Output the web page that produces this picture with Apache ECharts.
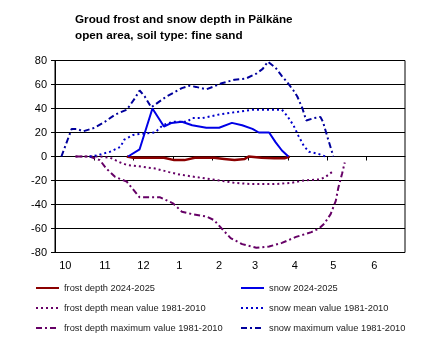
<!DOCTYPE html>
<html>
<head>
<meta charset="utf-8">
<script src="https://cdn.jsdelivr.net/npm/echarts@6/dist/echarts.min.js"></script>
<style>
  html, body { margin: 0; padding: 0; background: #fff; }
  #chart { width: 430px; height: 352px; }
</style>
</head>
<body>
<div id="chart"></div>
<script>
// x = days from 1 October, y = cm (snow positive, frost negative)
const monthLabels = ["10", "11", "12", "1", "2", "3", "4", "5", "6"];
const labelDays = [8, 39, 69, 97, 128, 156, 187, 217, 249];
const monthStarts = [31, 61, 92, 123, 151, 182, 212, 243];

const frostNow = [[56, 0], [61, -1], [85, -1], [93, -3], [101, -3], [109, -1], [124, -1], [132, -2],
  [140, -3], [148, -2], [151, 0], [161, -1], [171, -1.5], [179, -1.5], [183, 0]];
const frostMean = [[16, 0], [35, 0], [43, -1], [51, -5], [56, -7], [64, -8], [78, -10], [89, -13],
  [97, -15], [109, -17], [122, -19], [134, -21], [140, -22], [153, -23], [171, -23], [184, -22],
  [194, -20], [207, -19], [211, -17], [216, -13]];
const frostMax = [[16, 0], [27, 0], [35, -3], [40, -10], [47, -17], [56, -21], [66, -34], [82, -34],
  [92, -39], [99, -46], [107, -48], [118, -50], [124, -53], [130, -60], [137, -68], [146, -73],
  [157, -76], [167, -75], [177, -72], [188, -67], [200, -63], [206, -60], [210, -56], [215, -48],
  [219, -37], [221, -26], [224, -14], [226, -5]];
const snowNow = [[57, 0], [66, 6], [76, 40], [85, 25], [91, 28], [99, 29], [107, 26], [118, 24],
  [128, 24], [138, 28], [146, 26], [154, 23], [159, 20], [167, 20], [172, 12], [177, 5], [182, 0]];
const snowMean = [[27, 0], [33, 1], [43, 4], [51, 8], [54, 14], [61, 18], [68, 19], [78, 20],
  [84, 26], [92, 29], [103, 29], [107, 32], [115, 32], [128, 35], [141, 37], [154, 39], [167, 39],
  [177, 39], [181, 34], [186, 26], [190, 17], [194, 9], [198, 4], [206, 2], [211, 0]];
const snowMax = [[5, 0], [13, 23], [17, 23], [22, 21], [31, 24], [39, 29], [47, 35], [56, 39],
  [62, 48], [66, 55], [70, 50], [75, 41], [87, 50], [99, 57], [105, 59], [110, 58], [118, 56],
  [123, 58], [130, 61], [140, 64], [149, 65], [157, 69], [162, 73], [166, 79], [172, 74], [177, 67],
  [181, 62], [186, 55], [189, 50], [193, 40], [196, 30], [202, 32], [207, 33], [209, 29], [212, 18],
  [214, 11], [216, 4], [217, 0]];

const font = 'Arial, "Liberation Sans", sans-serif';
const dotted = [2, 3];
const dashDot = [6, 3, 2, 3];

const chart = echarts.init(document.getElementById("chart"));

function line(name, data, color, type, width) {
  return {
    name: name,
    type: "line",
    data: data,
    symbol: "none",
    lineStyle: { color: color, width: width || 2, type: type },
    itemStyle: { color: color },
    animation: false
  };
}

const legendBase = {
  orient: "vertical",
  top: 277,
  itemWidth: 23,
  itemHeight: 12,
  itemGap: 8,
  itemStyle: { opacity: 0 },
  textStyle: { fontFamily: font, fontSize: 9.3, color: "#222", lineHeight: 12 }
};

chart.setOption({
  animation: false,
  title: {
    text: "Groud frost and snow depth in Pälkäne\nopen area, soil type: fine sand",
    left: 70,
    top: 7,
    textStyle: { fontFamily: font, fontSize: 11.7, fontWeight: "bold", color: "#000", lineHeight: 16 }
  },
  legend: [
    Object.assign({}, legendBase, {
      left: 30,
      data: ["frost depth 2024-2025", "frost depth mean value 1981-2010", "frost depth maximum value 1981-2010"]
    }),
    Object.assign({}, legendBase, {
      left: 235,
      data: ["snow 2024-2025", "snow mean value 1981-2010", "snow maximum value 1981-2010"]
    })
  ],
  grid: {
    left: 55,
    right: 25,
    top: 60.5,
    bottom: 99.5,
    show: true,
    borderColor: "#000",
    borderWidth: 1
  },
  xAxis: [
    {
      type: "value",
      min: 0,
      max: 273,
      axisLine: { onZero: true, lineStyle: { color: "#000", width: 1 } },
      axisTick: { show: true, customValues: monthStarts, length: 4, lineStyle: { color: "#000" } },
      axisLabel: { show: false },
      splitLine: { show: false }
    },
    {
      type: "value",
      min: 0,
      max: 273,
      position: "bottom",
      axisLine: { show: false, onZero: false },
      axisTick: { show: false },
      splitLine: { show: false },
      axisLabel: {
        customValues: labelDays,
        margin: 8,
        fontFamily: font,
        fontSize: 11,
        color: "#000",
        formatter: function (v) {
          const i = labelDays.indexOf(v);
          return i >= 0 ? monthLabels[i] : "";
        }
      }
    }
  ],
  yAxis: {
    type: "value",
    min: -80,
    max: 80,
    interval: 20,
    axisLine: { show: true, lineStyle: { color: "#000" } },
    axisTick: { show: true, length: 4, lineStyle: { color: "#000" } },
    axisLabel: { fontFamily: font, fontSize: 11, color: "#000", margin: 8 },
    splitLine: { lineStyle: { color: "#000", width: 1 } }
  },
  series: [
    line("frost depth 2024-2025", frostNow, "#8b0000", "solid", 2.5),
    line("frost depth mean value 1981-2010", frostMean, "#660066", dotted),
    line("frost depth maximum value 1981-2010", frostMax, "#660066", dashDot),
    line("snow 2024-2025", snowNow, "#0000e6", "solid"),
    line("snow mean value 1981-2010", snowMean, "#0000cc", dotted),
    line("snow maximum value 1981-2010", snowMax, "#00009c", dashDot)
  ]
});
</script>
</body>
</html>
